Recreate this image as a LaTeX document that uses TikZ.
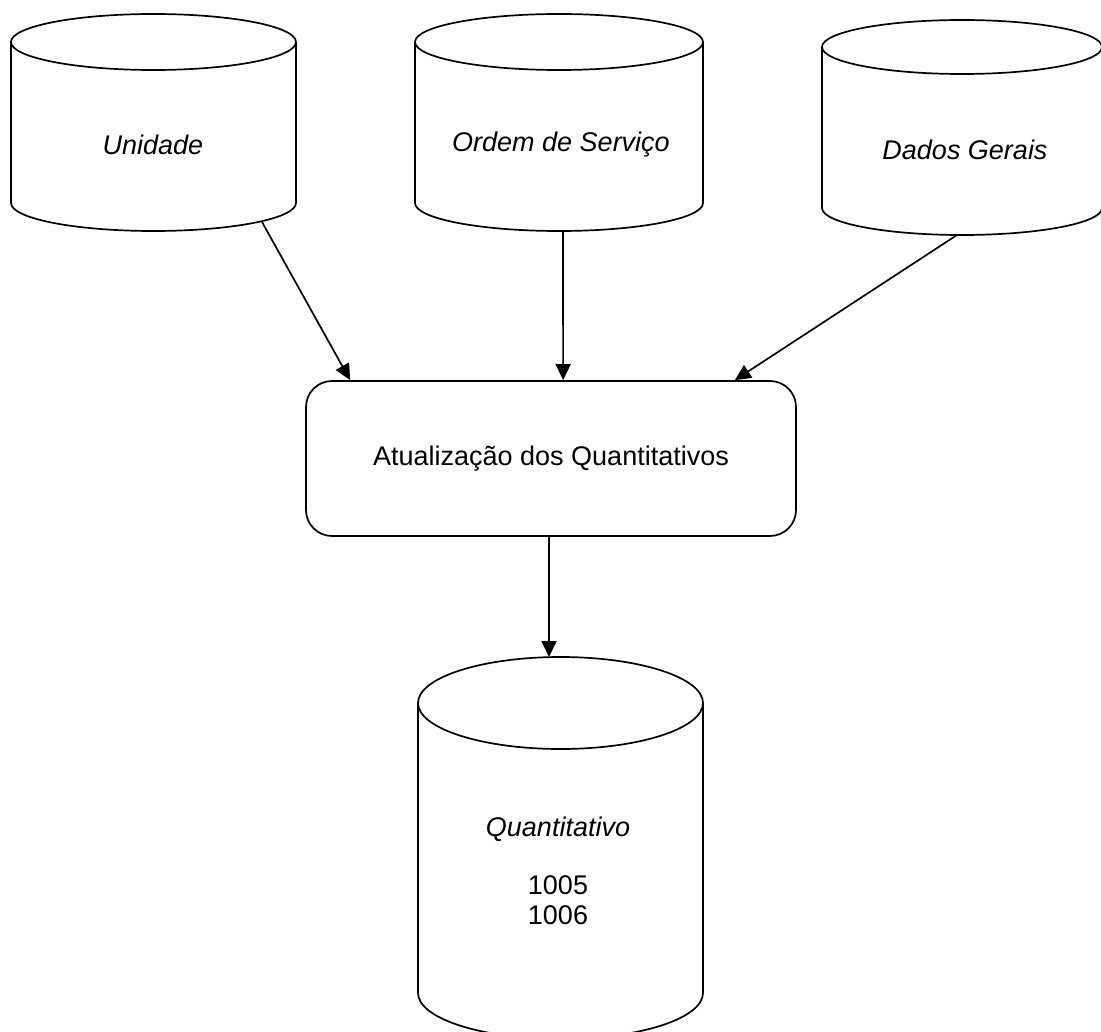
\documentclass[tikz,border=0pt]{standalone}
\usepackage{fontspec}
\setmainfont{Liberation Sans}
\usepackage{tikz}
\usetikzlibrary{arrows.meta}
\usetikzlibrary{calc}
\tikzset{
    dbline/.style={draw=black,line width=1.7pt},
    flow/.style={draw=black,line width=1.7pt,-{Triangle[length=16pt,width=15pt]}},
    procbox/.style={draw=black,line width=1.7pt,rounded corners=26pt,
             minimum width=490pt,minimum height=155pt,inner sep=0pt},
    dblabel/.style={font=\fontsize{27}{31}\selectfont\itshape},
    boxlabel/.style={font=\fontsize{27}{30}\selectfont,align=center}
  }
% database drum: centre x, top y, bottom y, x radius, y radius
\newcommand{\dbcyl}[5]{%
  \draw[dbline] (#1,#2) ellipse [x radius=#4, y radius=#5];
  \draw[dbline] ({#1-#4},#2) -- ({#1-#4},#3)
     arc [start angle=180, end angle=0, x radius=#4, y radius=#5] -- ({#1+#4},#2);
}

\begin{document}
\begin{tikzpicture}[x=1pt,y=-1pt]
 \useasboundingbox (0,0) rectangle (1101,1032);
 %Unidade
     \dbcyl{153.5}{42}{203}{142.5}{28}
     \node[dblabel] (uni) at (153,145) {Unidade};
     \coordinate (unibot) at (262,222);
 %Ordem de Servico
     \dbcyl{559}{42}{203}{144}{28}
     \node[dblabel] (ord) at (561,145) {Ordem de Serviço};
     \coordinate (ordbot) at (563,231);
 %Dados Gerais
     \dbcyl{962}{47}{208}{140}{27}
     \node[dblabel] (dad) at (965,150) {Dados Gerais};
     \coordinate (dadbot) at (957,235);
 %Quantitativo
     \dbcyl{560.5}{703}{993}{142.5}{46}
     \node[boxlabel] (qnt) at (558,871) {\textit{Quantitativo}\\[28pt]1005\\1006};
     \coordinate (qnttop) at (549,657);
 % process
     \node[procbox,boxlabel] (upd) at (551,458.5) {Atualização dos Quantitativos};
 % arrows
     \draw[flow] (unibot) -- ([xshift=45pt]upd.north west);
     \draw[flow] (ordbot) -- ([xshift=258pt]upd.north west);
     \draw[flow] (dadbot) -- ([xshift=-62pt]upd.north east);
     \draw[flow] ([xshift=-2pt]upd.south) -- (qnttop);
\end{tikzpicture}
\end{document}
